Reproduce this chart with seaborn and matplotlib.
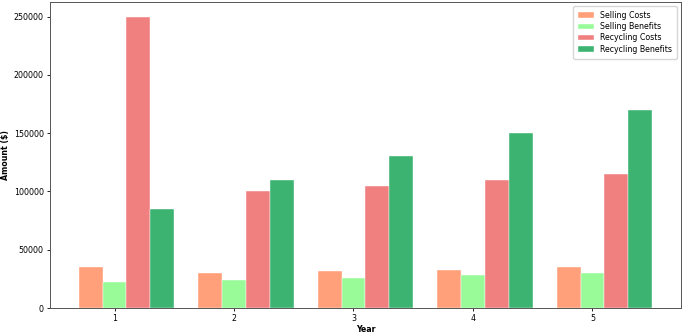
import matplotlib
matplotlib.use("Agg")
import matplotlib.pyplot as plt
import seaborn as sns
import pandas as pd

years = [1, 2, 3, 4, 5]
selling_costs = [35000, 30000, 32000, 33000, 35000]
selling_benefits = [22000, 24000, 26000, 28000, 30000]
recycling_costs = [250000, 100000, 105000, 110000, 115000]
recycling_benefits = [85000, 110000, 130000, 150000, 170000]
series_names = ["Selling Costs", "Selling Benefits", "Recycling Costs", "Recycling Benefits"]
colors = ["#FFA07A", "#98FB98", "#F08080", "#3CB371"]

rows = []
for name, vals in zip(series_names, [selling_costs, selling_benefits, recycling_costs, recycling_benefits]):
    for y, v in zip(years, vals):
        rows.append({"Year": y, "Amount": v, "Type": name})
df = pd.DataFrame(rows)

fs = 5.7
plt.rcParams["font.size"] = fs
fig = plt.figure(figsize=(6.85, 3.33), dpi=100)
ax = fig.add_axes([0.073, 0.075, 0.921, 0.919])
sns.barplot(data=df, x="Year", y="Amount", hue="Type", hue_order=series_names,
            palette=colors, saturation=1, width=0.8, ax=ax,
            edgecolor="white", linewidth=0.3, errorbar=None)
# ticks sit under the second bar of each group, as in the reference
ax.set_xticks([i - 0.1 for i in range(len(years))])
ax.set_xticklabels([str(y) for y in years])
ax.set_xlim(-0.64, 4.64)
ax.set_ylim(0, 262500)
ax.set_xlabel("Year", fontweight="bold", fontsize=fs, labelpad=1)
ax.set_ylabel("Amount ($)", fontweight="bold", fontsize=fs, labelpad=3)
ax.tick_params(labelsize=fs, length=2.5, width=0.6, pad=2)
for s in ax.spines.values():
    s.set_color("#555555")
    s.set_linewidth(0.7)
ax.legend(loc="upper right", fontsize=fs, frameon=True, borderpad=0.6,
          labelspacing=0.3, handlelength=2.0, framealpha=0.8)
fig.savefig("out.png", dpi=100)
